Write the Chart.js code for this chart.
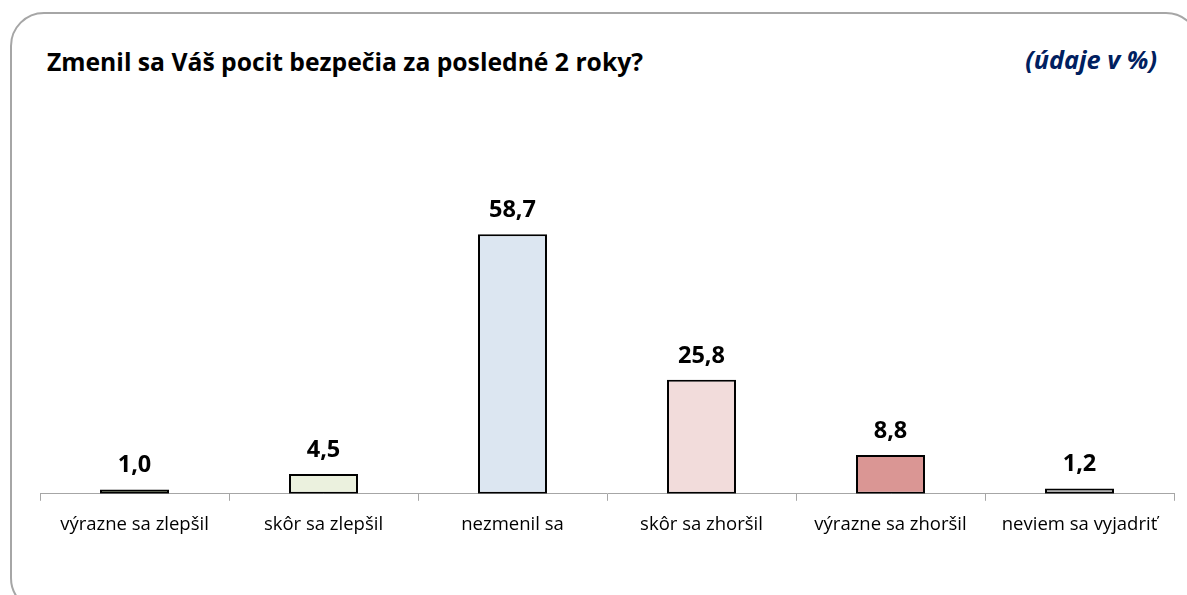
<!DOCTYPE html>
<html>
<head>
<meta charset="utf-8">
<script src="https://cdn.jsdelivr.net/npm/chart.js@4.4.1/dist/chart.umd.min.js"></script>
<style>
  html, body { margin: 0; padding: 0; background: #ffffff; }
  #wrap { position: relative; width: 1187px; height: 595px; overflow: hidden; background: #fff; }
  #frame { position: absolute; left: 10px; top: 12px; width: 1190px; height: 600px;
           border: 2px solid #a6a6a6; border-radius: 34px; box-sizing: border-box; }
  #title { position: absolute; left: 47px; top: 45px; font-family: "Open Sans", sans-serif;
           font-weight: bold; font-size: 24.7px; line-height: 33px; color: #000; white-space: nowrap; }
  #unit { position: absolute; right: 30px; top: 42px; font-family: "Open Sans", sans-serif;
          font-weight: bold; font-style: italic; font-size: 25.3px; line-height: 34px; color: #002060; white-space: nowrap; }
  canvas { position: absolute; left: 0; top: 0; }
</style>
</head>
<body>
<div id="wrap">
  <div id="frame"></div>
  <div id="title">Zmenil sa Váš pocit bezpečia za posledné 2 roky?</div>
  <div id="unit">(údaje v %)</div>
  <canvas id="c" width="1187" height="595"></canvas>
</div>
<script>
const categories = ["výrazne sa zlepšil", "skôr sa zlepšil", "nezmenil sa", "skôr sa zhoršil", "výrazne sa zhoršil", "neviem sa vyjadriť"];
const values = [1.0, 4.5, 58.7, 25.8, 8.8, 1.2];
const barColors = ["#a9c47f", "#ebf1de", "#dce6f1", "#f2dcdb", "#da9694", "#a6a6a6"];

const labelPlugin = {
  id: "valueLabels",
  afterDatasetsDraw(chart) {
    const ctx = chart.ctx;
    const meta = chart.getDatasetMeta(0);
    ctx.save();
    ctx.font = "bold 23.5px 'Open Sans', sans-serif";
    ctx.fillStyle = "#000";
    ctx.textAlign = "center";
    ctx.textBaseline = "alphabetic";
    meta.data.forEach((bar, i) => {
      const txt = values[i].toFixed(1).replace(".", ",");
      ctx.fillText(txt, bar.x, bar.y - 17);
    });
    ctx.restore();
  }
};

new Chart(document.getElementById("c"), {
  type: "bar",
  data: {
    labels: categories,
    datasets: [{
      data: values,
      backgroundColor: barColors,
      borderColor: "#000000",
      borderWidth: 2,
      borderSkipped: false,
      categoryPercentage: 0.365,
      barPercentage: 1.0
    }]
  },
  options: {
    responsive: false,
    animation: false,
    devicePixelRatio: 1,
    layout: { padding: { left: 40, right: 13, top: 140, bottom: 46 } },
    plugins: { legend: { display: false }, tooltip: { enabled: false } },
    scales: {
      x: {
        offset: true,
        grid: { offset: true, drawOnChartArea: false, drawTicks: true, tickLength: 7, color: "#a6a6a6", lineWidth: 1 },
        border: { display: true, color: "#a6a6a6", width: 1 },
        ticks: { color: "#000", font: { family: "'Open Sans', sans-serif", size: 18.5 }, padding: 13, maxRotation: 0 }
      },
      y: {
        display: false,
        min: 0,
        max: 80
      }
    }
  },
  plugins: [labelPlugin]
});
</script>
</body>
</html>
